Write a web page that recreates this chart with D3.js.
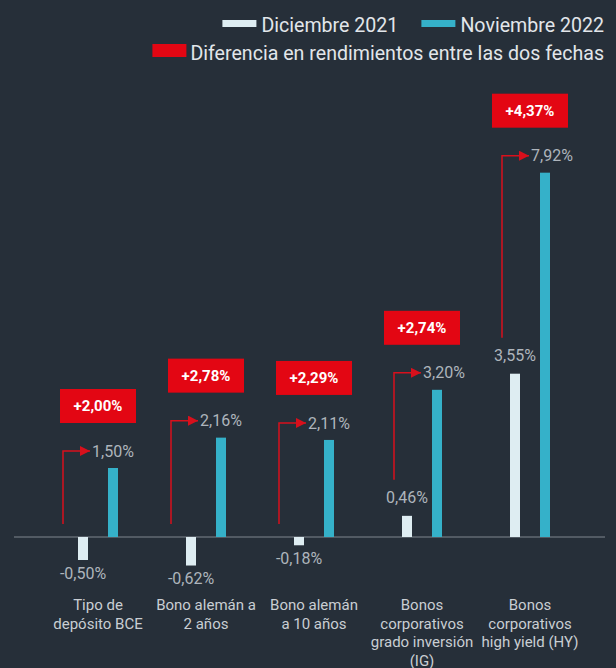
<!DOCTYPE html>
<html>
<head>
<meta charset="utf-8">
<script src="https://cdn.jsdelivr.net/npm/d3@7"></script>
<style>
body{margin:0;background:#262f39;}
svg{display:block;font-family:Roboto, sans-serif;}
</style>
</head>
<body>
<div id="chart"></div>
<script>
// data
var categories = ["Tipo de depósito BCE", "Bono alemán a 2 años", "Bono alemán a 10 años",
  "Bonos corporativos grado inversión (IG)", "Bonos corporativos high yield (HY)"];
var categoryLines = [
  ["Tipo de", "depósito BCE"],
  ["Bono alemán a", "2 años"],
  ["Bono alemán", "a 10 años"],
  ["Bonos", "corporativos", "grado inversión", "(IG)"],
  ["Bonos", "corporativos", "high yield (HY)"]
];
var series = ["Diciembre 2021", "Noviembre 2022"];
var dic2021 = [-0.50, -0.62, -0.18, 0.46, 3.55];
var nov2022 = [1.50, 2.16, 2.11, 3.20, 7.92];
var diferencia = [2.00, 2.78, 2.29, 2.74, 4.37];
var diffLegend = "Diferencia en rendimientos entre las dos fechas";

var colors = {bg:"#262f39", dic:"#deedf2", nov:"#35b1c9", red:"#e30613", arrow:"#d8101c",
  axis:"#7f878f", value:"#aeb5bc", cat:"#c9ced3", legend:"#e2e6ea"};

var W = 616, H = 668;

var locale = d3.formatLocale({decimal:",", thousands:".", grouping:[3], currency:["","€"], minus:"-"});
var fmt = locale.format(".2f");
var fmtDiff = locale.format("+.2f");

var svg = d3.select("#chart").append("svg")
  .attr("width", W).attr("height", H);

svg.append("rect").attr("width", W).attr("height", H).attr("fill", colors.bg);

// scales
var x = d3.scalePoint()
  .domain(categories)
  .range([98, 530]);

var xSub = d3.scaleBand()
  .domain(series)
  .range([-20, 20])
  .paddingInner(2/3);

var y = d3.scaleLinear()
  .domain([-1, 9])
  .range([537 + 46, 537 - 46*9]);

var rows = categories.map(function(c, i){
  return {cat:c, lines:categoryLines[i], dic:dic2021[i], nov:nov2022[i], diff:diferencia[i]};
});

// zero line
svg.append("line")
  .attr("x1", 14).attr("x2", 605)
  .attr("y1", y(0)).attr("y2", y(0))
  .attr("stroke", colors.axis).attr("stroke-width", 1);

var g = svg.selectAll("g.grp")
  .data(rows)
  .enter().append("g")
  .attr("class", "grp")
  .attr("transform", function(d){ return "translate(" + x(d.cat) + ",0)"; });

// bars
g.append("rect")
  .attr("x", xSub(series[0]))
  .attr("width", xSub.bandwidth())
  .attr("y", function(d){ return Math.min(y(d.dic), y(0)); })
  .attr("height", function(d){ return Math.abs(y(d.dic) - y(0)); })
  .attr("fill", colors.dic);

g.append("rect")
  .attr("x", xSub(series[1]))
  .attr("width", xSub.bandwidth())
  .attr("y", function(d){ return y(d.nov); })
  .attr("height", function(d){ return y(0) - y(d.nov); })
  .attr("fill", colors.nov);

// dic labels
var dicCx = xSub(series[0]) + xSub.bandwidth()/2;
g.append("text")
  .attr("x", dicCx)
  .attr("y", function(d){ return d.dic < 0 ? y(d.dic) + 13 : y(d.dic) - 18; })
  .attr("dy", "0.35em")
  .attr("text-anchor", "middle")
  .attr("font-size", 16)
  .attr("fill", colors.value)
  .text(function(d){ return fmt(d.dic) + "%"; });

// arrow elbow
svg.append("defs").append("marker")
  .attr("id", "head")
  .attr("viewBox", "0 0 10 10")
  .attr("refX", 10).attr("refY", 5)
  .attr("markerWidth", 15).attr("markerHeight", 10)
  .attr("markerUnits", "userSpaceOnUse")
  .attr("orient", "auto")
  .append("path")
  .attr("d", "M0,0L10,5L0,10Z")
  .attr("fill", colors.arrow);

function lineX(d){ return dicCx - (d.dic < 0 ? 20 : 13); }
function arrowY(d){ return y(d.nov) - 17; }
function lineBottom(d){ return d.dic < 0 ? y(0) - 13 : y(d.dic) - 36; }

g.append("path")
  .attr("d", function(d){
    var lx = lineX(d);
    return "M" + lx + "," + lineBottom(d) + "V" + arrowY(d) + "H" + (lx + 27);
  })
  .attr("fill", "none")
  .attr("stroke", colors.arrow)
  .attr("stroke-width", 1.5)
  .attr("marker-end", "url(#head)");

// nov labels next to arrow
g.append("text")
  .attr("x", function(d){ return lineX(d) + 29; })
  .attr("y", arrowY)
  .attr("dy", "0.35em")
  .attr("font-size", 16)
  .attr("fill", colors.value)
  .text(function(d){ return fmt(d.nov) + "%"; });

// red diff boxes
g.append("rect")
  .attr("x", -38)
  .attr("width", 76)
  .attr("y", function(d){ return arrowY(d) - 45 - 17; })
  .attr("height", 34)
  .attr("fill", colors.red);

g.append("text")
  .attr("x", 0)
  .attr("y", function(d){ return arrowY(d) - 45; })
  .attr("dy", "0.36em")
  .attr("text-anchor", "middle")
  .attr("font-size", 15)
  .attr("font-weight", "bold")
  .attr("fill", "#ffffff")
  .text(function(d){ return fmtDiff(d.diff) + "%"; });

// category labels
g.append("text")
  .attr("text-anchor", "middle")
  .attr("font-size", 15)
  .attr("fill", colors.cat)
  .selectAll("tspan")
  .data(function(d){ return d.lines; })
  .enter().append("tspan")
  .attr("x", 0)
  .attr("y", function(d, i){ return 610 + i*18.7; })
  .text(function(d){ return d; });

// legend
var legend = svg.append("g").attr("font-size", 19.6).attr("fill", colors.legend);
var right = 604;

var t2 = legend.append("text").attr("x", right).attr("y", 32)
  .attr("text-anchor", "end").text(series[1]);
var w2 = t2.node().getComputedTextLength();
legend.append("rect").attr("x", right - w2 - 39).attr("y", 20).attr("width", 34).attr("height", 7)
  .attr("fill", colors.nov);

var x1end = right - w2 - 39 - 23;
var t1 = legend.append("text").attr("x", x1end).attr("y", 32)
  .attr("text-anchor", "end").text(series[0]);
var w1 = t1.node().getComputedTextLength();
legend.append("rect").attr("x", x1end - w1 - 39).attr("y", 20).attr("width", 34).attr("height", 7)
  .attr("fill", colors.dic);

var t3 = legend.append("text").attr("x", right).attr("y", 60)
  .attr("text-anchor", "end").text(diffLegend);
var w3 = t3.node().getComputedTextLength();
legend.append("rect").attr("x", right - w3 - 38).attr("y", 44).attr("width", 34).attr("height", 13)
  .attr("fill", colors.red);
</script>
</body>
</html>
